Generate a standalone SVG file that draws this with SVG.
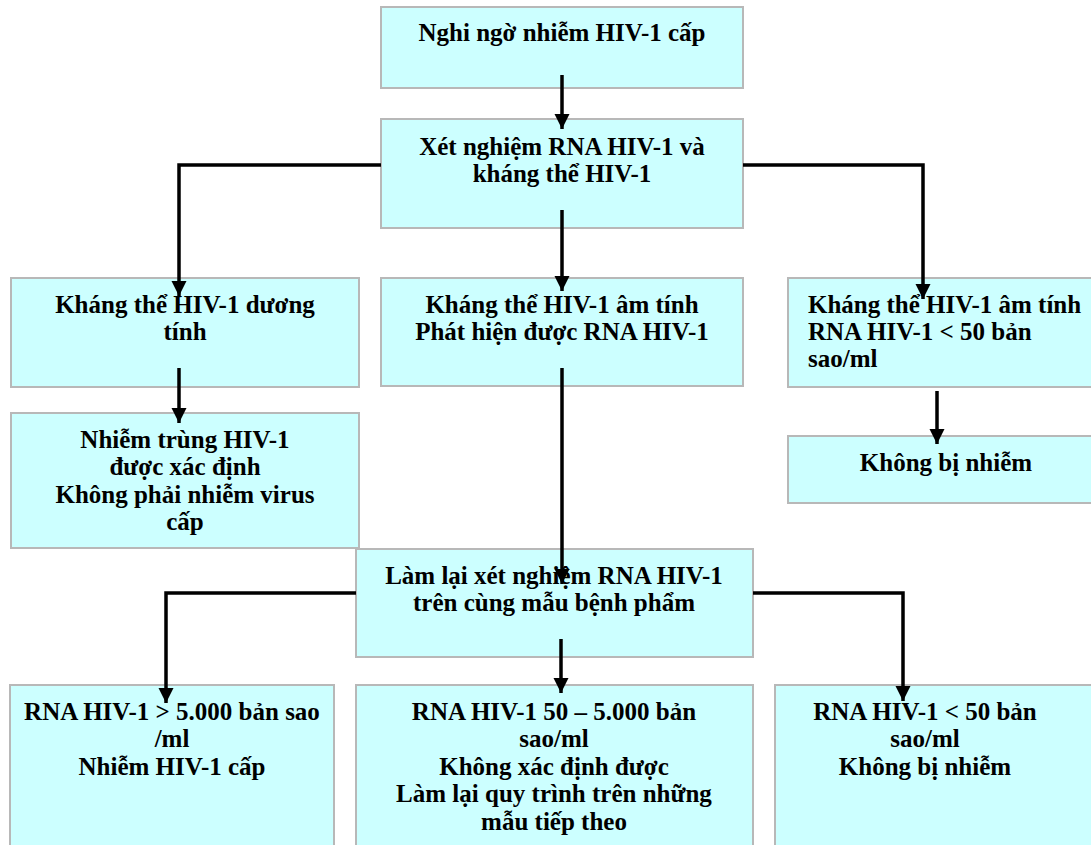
<svg xmlns="http://www.w3.org/2000/svg" width="1091" height="845" viewBox="0 0 1091 845">
<style>
.box{fill:#CCFFFF;stroke:#b8b8b8;stroke-width:2}
.t{font-family:"Liberation Serif","Times New Roman",serif;font-weight:bold;font-size:25px;fill:#000}
.c{text-anchor:middle}
.cn{fill:none;stroke:#000;stroke-width:3.5;marker-end:url(#ah)}
</style>
<defs>
<marker id="ah" markerUnits="userSpaceOnUse" markerWidth="16" markerHeight="16" refX="15" refY="8" orient="auto" viewBox="0 0 16 16">
<path d="M0,0.5 L15,8 L0,15.5 z" fill="#000"/>
</marker>
</defs>
<rect width="1091" height="845" fill="#fff"/>
<g id="n1"><rect class="box" x="381" y="7" width="362" height="81"/>
<text class="t c" x="562" y="41">Nghi ngờ nhiễm HIV-1 cấp</text></g>
<g id="n2"><rect class="box" x="381" y="119" width="362" height="109"/>
<text class="t c" x="562" y="155">Xét nghiệm RNA HIV-1 và</text>
<text class="t c" x="562" y="182">kháng thể HIV-1</text></g>
<g id="n3"><rect class="box" x="11" y="278" width="348" height="109"/>
<text class="t c" x="185" y="313">Kháng thể HIV-1 dương</text>
<text class="t c" x="185" y="340">tính</text></g>
<g id="n4"><rect class="box" x="381" y="278" width="362" height="108"/>
<text class="t c" x="562" y="313">Kháng thể HIV-1 âm tính</text>
<text class="t c" x="562" y="340">Phát hiện được RNA HIV-1</text></g>
<g id="n5"><rect class="box" x="788" y="278" width="320" height="109"/>
<text class="t" x="808" y="313">Kháng thể HIV-1 âm tính</text>
<text class="t" x="808" y="340">RNA HIV-1 &lt; 50 bản</text>
<text class="t" x="808" y="367">sao/ml</text></g>
<g id="n6"><rect class="box" x="11" y="413" width="348" height="135"/>
<text class="t c" x="185" y="448">Nhiễm trùng HIV-1</text>
<text class="t c" x="185" y="475">được xác định</text>
<text class="t c" x="185" y="503">Không phải nhiễm virus</text>
<text class="t c" x="185" y="530">cấp</text></g>
<g id="n7"><rect class="box" x="788" y="436" width="320" height="67"/>
<text class="t c" x="946" y="471">Không bị nhiễm</text></g>
<g id="n8"><rect class="box" x="356" y="549" width="397" height="108"/>
<text class="t c" x="554" y="584">Làm lại xét nghiệm RNA HIV-1</text>
<text class="t c" x="554" y="611">trên cùng mẫu bệnh phẩm</text></g>
<g id="n9"><rect class="box" x="10" y="685" width="324" height="170"/>
<text class="t c" x="172" y="720">RNA HIV-1 &gt; 5.000 bản sao</text>
<text class="t c" x="172" y="747">/ml</text>
<text class="t c" x="172" y="775">Nhiễm HIV-1 cấp</text></g>
<g id="n10"><rect class="box" x="356" y="685" width="397" height="170"/>
<text class="t c" x="554" y="720">RNA HIV-1 50 – 5.000 bản</text>
<text class="t c" x="554" y="747">sao/ml</text>
<text class="t c" x="554" y="775">Không xác định được</text>
<text class="t c" x="554" y="802">Làm lại quy trình trên những</text>
<text class="t c" x="554" y="830">mẫu tiếp theo</text></g>
<g id="n11"><rect class="box" x="775" y="685" width="330" height="170"/>
<text class="t c" x="925" y="720">RNA HIV-1 &lt; 50 bản</text>
<text class="t c" x="925" y="747">sao/ml</text>
<text class="t c" x="925" y="775">Không bị nhiễm</text></g>
<g id="connectors">
<path class="cn" d="M562,75 V129"/>
<path class="cn" d="M381,165 H179 V296"/>
<path class="cn" d="M743,165 H923 V299"/>
<path class="cn" d="M562,210 V291"/>
<path class="cn" d="M179,368 V423"/>
<path class="cn" d="M562,368 V584"/>
<path class="cn" d="M937,391 V444"/>
<path class="cn" d="M356,593 H166 V703"/>
<path class="cn" d="M561,639 V693"/>
<path class="cn" d="M753,593 H903 V701"/>
</g>
</svg>
